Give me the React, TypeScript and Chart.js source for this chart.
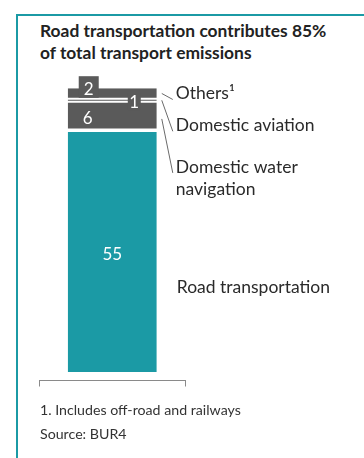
import React, { useEffect, useRef } from "react";
import { Chart, registerables } from "chart.js";

Chart.register(...registerables);

// ---- data ----
const categories = ["Transport emissions"];
const segmentNames = ["Road transportation", "Domestic water navigation", "Domestic aviation", "Others¹"];
const segmentLines = [["Road transportation"], ["Domestic water", "navigation"], ["Domestic aviation"], ["Others¹"]];
const segmentValues = [55, 6.4, 0.7, 2.4];
const titleLines = ["Road transportation contributes 85%", "of total transport emissions"];
const footnotes = ["1. Includes off-road and railways", "Source: BUR4"];

const TEAL = "#1b9aa5";
const GRAY = "#5a5a5a";
const FONT = "Lato, 'Noto Sans', sans-serif";
const segmentColors = [TEAL, GRAY, GRAY, GRAY];
const segmentBorders = [
  { top: 2, bottom: 0, left: 0, right: 0 },
  { top: 1, bottom: 1.5, left: 0, right: 0 },
  { top: 1, bottom: 1, left: 0, right: 0 },
  { top: 0, bottom: 1, left: 0, right: 0 },
];

// label layout (style only)
const annotDy = [36, 51, 25, 0]; // text centre relative to segment mid
const annotX = [20, 19, 19, 19];

const labelsPlugin = {
  id: "segLabels",
  afterDatasetsDraw(chart: any) {
    const ctx = chart.ctx;
    ctx.save();
    ctx.textBaseline = "middle";
    segmentValues.forEach((v, i) => {
      const el = chart.getDatasetMeta(i).data[0];
      if (!el) return;
      const { x, y, base, width } = el.getProps(["x", "y", "base", "width"], true);
      const left = x - width / 2;
      const right = x + width / 2;
      const mid = (y + base) / 2;
      const txt = String(Math.round(v));
      ctx.font = `17px ${FONT}`;
      ctx.textAlign = "center";
      if (i === 0) {
        ctx.fillStyle = "#fff";
        ctx.fillText(txt, x, mid + 4);
      } else if (i === 1) {
        ctx.fillStyle = "#fff";
        ctx.fillText(txt, left + 20, mid + 3);
      } else if (i === 2) {
        ctx.fillStyle = GRAY;
        ctx.fillRect(right - 29, mid - 7, 13, 17);
        ctx.fillStyle = "#fff";
        ctx.fillText(txt, right - 22.5, mid + 2);
      } else if (i === 3) {
        ctx.fillStyle = GRAY;
        ctx.fillRect(left + 11, y - 12, 20, base - y + 11);
        ctx.fillStyle = "#fff";
        ctx.fillText(txt, left + 21, y + 1);
      }
      // right annotations
      const tx = right + annotX[i];
      const ty = mid + annotDy[i];
      ctx.textAlign = "left";
      ctx.fillStyle = "#2a2a2a";
      ctx.font = `17.5px ${FONT}`;
      segmentLines[i].forEach((line, k) => ctx.fillText(line, tx, ty + k * 22));
      if (i > 0) {
        ctx.strokeStyle = "#6a6a6a";
        ctx.lineWidth = 1;
        ctx.beginPath();
        ctx.moveTo(right + 5, i === 1 ? mid + 3 : mid);
        ctx.lineTo(tx - 3, ty + 6);
        ctx.stroke();
      }
    });
    ctx.restore();
  },
};

export default function App() {
  const ref = useRef<HTMLCanvasElement>(null);
  useEffect(() => {
    if (!ref.current) return;
    const chart = new Chart(ref.current, {
      type: "bar",
      data: {
        labels: categories,
        datasets: segmentNames.map((name, i) => ({
          label: name,
          data: [segmentValues[i]],
          backgroundColor: segmentColors[i],
          borderColor: "#ffffff",
          borderWidth: segmentBorders[i] as any,
          borderSkipped: false as any,
          barPercentage: 0.612,
          categoryPercentage: 1,
        })),
      },
      options: {
        responsive: false,
        animation: false,
        events: [],
        layout: { padding: { top: 81.6, bottom: 71.5, left: 39.5, right: 179 } },
        plugins: { legend: { display: false }, tooltip: { enabled: false } },
        scales: {
          x: {
            stacked: true,
            grid: { display: true, drawOnChartArea: false, drawTicks: true, tickLength: 6, color: "#8a8a8a", offset: true },
            border: { display: true, color: "#8a8a8a", width: 1 },
            ticks: { display: false },
          },
          y: { stacked: true, display: false, min: -1.93, max: 66 },
        },
      },
      plugins: [labelsPlugin],
    });
    return () => chart.destroy();
  }, []);

  return (
    <div style={{ position: "absolute", left: 0, top: 0, width: 364, height: 458, overflow: "hidden", background: "#fff", fontFamily: FONT }}>
      <div style={{ position: "absolute", left: 16, top: 14, right: 0, bottom: 0, borderTop: `2px solid ${TEAL}`, borderLeft: `2px solid ${TEAL}` }} />
      <div style={{ position: "absolute", left: 40, top: 20, fontWeight: 700, fontSize: 17.4, lineHeight: "22px", color: "#222", whiteSpace: "nowrap" }}>
        {titleLines.map((t, i) => (
          <div key={i}>{t}</div>
        ))}
      </div>
      <canvas ref={ref} width={364} height={458} style={{ position: "absolute", left: 0, top: 0 }} />
      <div style={{ position: "absolute", left: 40, top: 398, fontSize: 14.2, lineHeight: "24px", color: "#333", whiteSpace: "nowrap" }}>
        {footnotes.map((t, i) => (
          <div key={i}>{t}</div>
        ))}
      </div>
    </div>
  );
}
